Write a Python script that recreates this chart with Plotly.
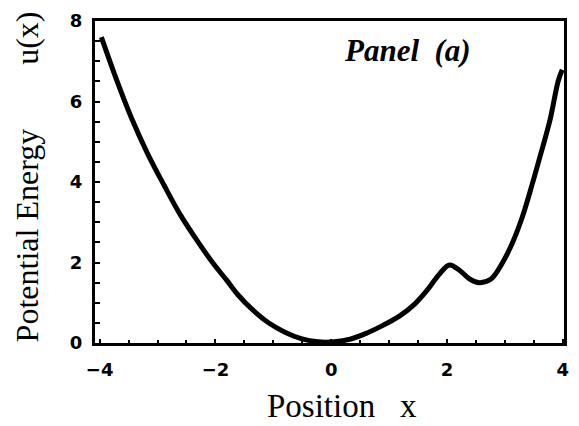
import plotly.graph_objects as go

# Data
position_x = [-3.97, -3.71, -3.45, -3.17, -2.88, -2.60, -2.31, -2.03, -1.80, -1.60,
              -1.37, -1.09, -0.80, -0.52, -0.23, 0.05, 0.34, 0.62, 0.91, 1.19,
              1.45, 1.65, 1.85, 2.04, 2.22, 2.39, 2.56, 2.76, 2.96, 3.13,
              3.30, 3.47, 3.58, 3.78, 3.92, 3.99]
energy_u = [7.60, 6.55, 5.59, 4.70, 3.90, 3.17, 2.53, 1.96, 1.55, 1.18,
            0.84, 0.51, 0.27, 0.11, 0.03, 0.03, 0.10, 0.25, 0.45, 0.68,
            0.98, 1.30, 1.68, 1.94, 1.80, 1.59, 1.50, 1.59, 2.00, 2.49,
            3.13, 3.94, 4.50, 5.55, 6.51, 6.79]
x_ticks = [-4, -2, 0, 2, 4]
y_ticks = [0, 2, 4, 6, 8]
x_title = "Position&nbsp;&nbsp;&nbsp;x"
y_title = "Potential Energy&nbsp;&nbsp;&nbsp;&nbsp;&nbsp;&nbsp;&nbsp;&nbsp;u(x)"
panel_label = "Panel&nbsp;&nbsp;(a)"

serif = "Liberation Serif"
sans = "DejaVu Sans"
W, H = 579, 426
plot_l, plot_r, plot_t, plot_b = 95, 569, 12, 343


def px_to_paper(px, py):
    return (px - plot_l) / (plot_r - plot_l), (plot_b - py) / (plot_b - plot_t)


fig = go.Figure()
fig.add_trace(go.Scatter(
    x=position_x, y=energy_u, mode="lines",
    line=dict(color="black", width=5, shape="spline", smoothing=1.0),
    showlegend=False, hoverinfo="skip",
))

axis_common = dict(
    showline=True, linecolor="black", linewidth=3, mirror=True,
    showgrid=False, zeroline=False,
    ticks="inside", ticklen=4, tickwidth=2, tickcolor="black",
    tickfont=dict(family=sans, size=18, color="black", weight="bold"),
    tickmode="array",
)


def lab(v):
    s = ("\u2212" + str(abs(v))) if v < 0 else str(v)
    return "<b>" + s + "</b>"


fig.update_xaxes(
    range=[-4.08, 4.02], tickvals=x_ticks, ticktext=[lab(v) for v in x_ticks],
    minor=dict(dtick=0.5, tick0=0, ticks="inside", ticklen=3, tickwidth=2, tickcolor="black"),
    ticklabelstandoff=8,
    **axis_common,
)
fig.update_yaxes(
    range=[0, 8], tickvals=y_ticks, ticktext=[lab(v) for v in y_ticks],
    minor=dict(dtick=0.5, tick0=0, ticks="inside", ticklen=5, tickwidth=2, tickcolor="black"),
    ticklabelstandoff=6,
    **axis_common,
)

ax, ay = px_to_paper(345, 408)
fig.add_annotation(x=ax, y=ay, xref="paper", yref="paper", text=x_title,
                   showarrow=False, xanchor="center", yanchor="middle",
                   font=dict(family=serif, size=33, color="black"))
ax, ay = px_to_paper(26, 172)
fig.add_annotation(x=ax, y=ay, xref="paper", yref="paper", text=y_title,
                   showarrow=False, xanchor="center", yanchor="middle", textangle=-90,
                   font=dict(family=serif, size=32, color="black"))
ax, ay = px_to_paper(411, 42)
fig.add_annotation(x=ax, y=ay, xref="paper", yref="paper",
                   text="<b><i>" + panel_label + "</i></b>",
                   showarrow=False, xanchor="center", yanchor="middle",
                   font=dict(family=serif, size=31, color="black"))

fig.update_layout(
    width=W, height=H,
    margin=dict(l=plot_l, r=W - plot_r, t=plot_t, b=H - plot_b),
    paper_bgcolor="white", plot_bgcolor="white",
)

fig.write_html("out.html")
